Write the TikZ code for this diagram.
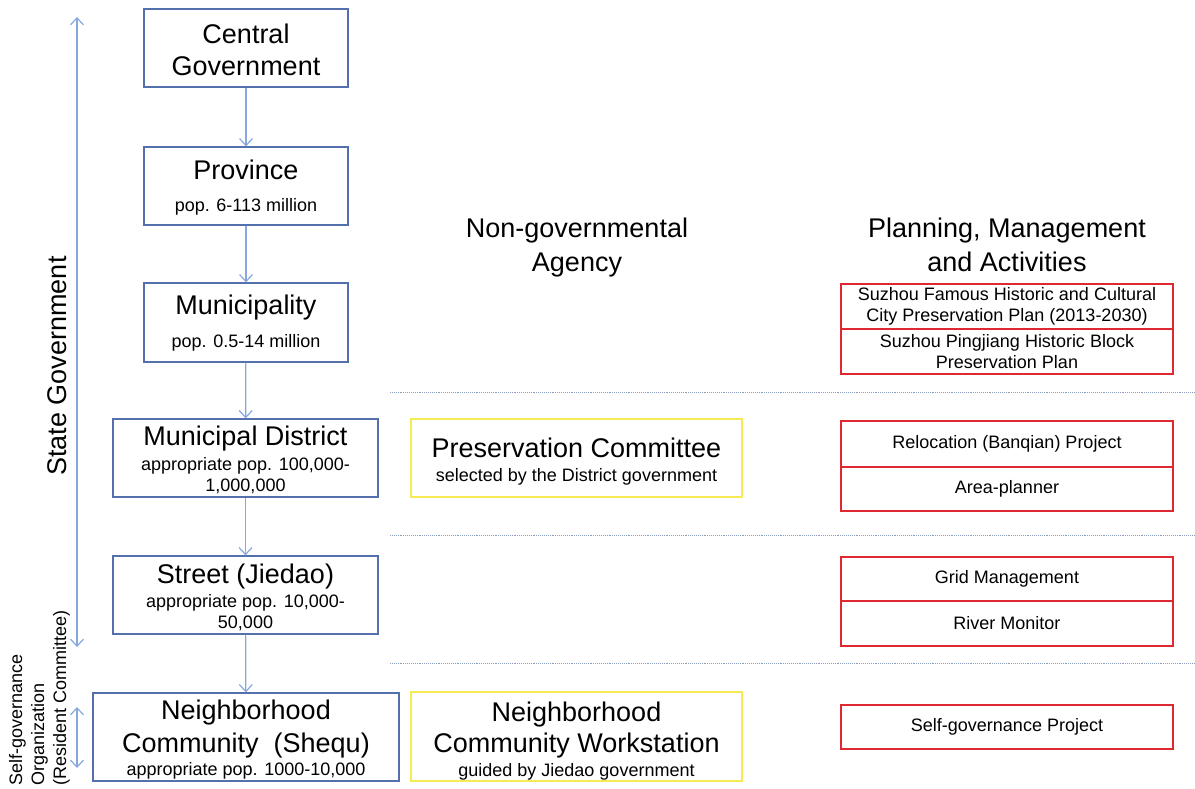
\documentclass[tikz,border=0pt]{standalone}
\usepackage{fontspec}
\setmainfont{Liberation Sans}
\usetikzlibrary{arrows.meta}
\definecolor{govblue}{RGB}{84,112,172}
\definecolor{arrowblue}{RGB}{135,168,222}
\definecolor{ngoyellow}{RGB}{245,235,85}
\definecolor{actred}{RGB}{222,40,50}
\definecolor{sepgray}{RGB}{140,158,190}
\newcommand\myTitle{\fontsize{27}{32}\selectfont}
\newcommand\mySmall{\fontsize{18}{21}\selectfont}
\newcommand\myAct{\fontsize{18}{20.5}\selectfont}
\tikzset{
  govbox/.style={draw=govblue, line width=1.2pt, inner sep=0pt},
  ngobox/.style={draw=ngoyellow, line width=1.2pt, inner sep=0pt},
  boxtext/.style={align=center, inner sep=0pt, text=black},
  actbox/.style={draw=actred, line width=1.1pt, align=center, inner sep=0pt, text=black,
     font=\myAct, minimum width=332pt},
  heading/.style={align=center, inner sep=0pt, font=\myTitle, text=black},
  flow/.style={draw=arrowblue, line width=1.2pt, -{Straight Barb[length=7pt,width=13pt]}},
  span/.style={draw=arrowblue, line width=1.2pt, {Straight Barb[length=7pt,width=13pt]}-{Straight Barb[length=7pt,width=13pt]}},
  sepline/.style={draw=sepgray, densely dotted, line width=0.9pt},
}
\begin{document}
\begin{tikzpicture}[x=1pt,y=-1pt]
\useasboundingbox (0,0) rectangle (1195,788);

% government hierarchy (boxes)
\node[govbox, minimum width=204pt, minimum height=78pt] (cg) at (246,48) {};
\node[govbox, minimum width=204pt, minimum height=78pt] (prov) at (246,186) {};
\node[govbox, minimum width=204pt, minimum height=79pt] (muni) at (246,322.5) {};
\node[govbox, minimum width=265pt, minimum height=78pt] (md) at (245.5,458) {};
\node[govbox, minimum width=265pt, minimum height=78pt] (st) at (245.5,595) {};
\node[govbox, minimum width=306pt, minimum height=88pt] (nc) at (246,737) {};

% government hierarchy (texts)
\node[boxtext, font=\myTitle] (cgt) at ([yshift=-1.5pt]cg.center) {Central\\Government};
\node[boxtext, font=\mySmall] (provt) at ([yshift=-2pt]prov.center)
  {{\myTitle Province}\\[11pt]pop. 6-113 million};
\node[boxtext, font=\mySmall] (munit) at ([yshift=-1pt]muni.center)
  {{\myTitle Municipality}\\[12pt]pop. 0.5-14 million};
\node[boxtext, font=\mySmall] (mdt) at ([yshift=-2pt]md.center)
  {{\myTitle Municipal District}\\[3.5pt]appropriate pop. 100,000-\\1,000,000};
\node[boxtext, font=\mySmall] (stt) at ([yshift=-2.5pt]st.center)
  {{\myTitle Street (Jiedao)}\\[3pt]appropriate pop. 10,000-\\50,000};
\node[boxtext, font=\myTitle] (nct) at ([yshift=-3pt]nc.center)
  {Neighborhood\\[1pt]Community\ \ (Shequ)\\[-9pt]{\mySmall appropriate pop. 1000-10,000}};

\draw[flow] (cg) -- (prov);
\draw[flow] (prov) -- (muni);
\draw[flow] (muni) -- (md);
\draw[flow] (md) -- (st);
\draw[flow] (st) -- (nc);

% left side spans
\coordinate (sgtop) at (77,17);
\coordinate (sgbot) at (77,647);
\draw[span] (sgtop) -- (sgbot);
\node[heading, rotate=90] (sglabel) at (57,366) {State Government};

\coordinate (sotop) at (77,707);
\coordinate (sobot) at (77,768);
\draw[span] (sotop) -- (sobot);
\node[rotate=90, anchor=north west, align=left, inner sep=0pt, font=\fontsize{18}{22}\selectfont, text=black] (solabel) at (9,786)
  {Self-governance\\Organization\\(Resident Committee)};

% column headings
\node[heading] (ngohead) at (577,248) {Non-governmental\\[2pt]Agency};
\node[heading] (acthead) at (1007,245) {Planning, Management\\[2pt]and Activities};

% separators
\coordinate (s1a) at (390,392); \coordinate (s1b) at (1195,392);
\coordinate (s2a) at (390,535); \coordinate (s2b) at (1195,535);
\coordinate (s3a) at (390,663); \coordinate (s3b) at (1195,663);
\draw[sepline] (s1a) -- (s1b);
\draw[sepline] (s2a) -- (s2b);
\draw[sepline] (s3a) -- (s3b);

% non-governmental agencies
\node[ngobox, minimum width=331pt, minimum height=78pt] (pc) at (576.5,458) {};
\node[ngobox, minimum width=331pt, minimum height=89pt] (ncw) at (576.5,736.5) {};
\node[boxtext, font=\mySmall] (pct) at ([yshift=-4pt]pc.center)
  {{\myTitle Preservation Committee}\\[3pt]selected by the District government};
\node[boxtext, font=\myTitle] (ncwt) at ([yshift=-5pt]ncw.center)
  {Neighborhood\\[-1pt]Community Workstation\\[-8pt]{\mySmall guided by Jiedao government}};

% activities
\node[actbox, minimum height=45pt] (plan1) at (1007,306.5) {Suzhou Famous Historic and Cultural\\City Preservation Plan (2013-2030)};
\node[actbox, minimum height=45pt] (plan2) at (1007,351.5) {Suzhou Pingjiang Historic Block\\Preservation Plan};
\node[actbox, minimum height=46pt] (reloc) at (1007,444) {Relocation (Banqian) Project};
\node[actbox, minimum height=44pt] (area) at (1007,489) {Area-planner};
\node[actbox, minimum height=44pt] (grid) at (1007,579) {Grid Management};
\node[actbox, minimum height=45pt] (river) at (1007,623.5) {River Monitor};
\node[actbox, minimum height=44pt] (selfp) at (1007,727) {Self-governance Project};
\end{tikzpicture}
\end{document}
